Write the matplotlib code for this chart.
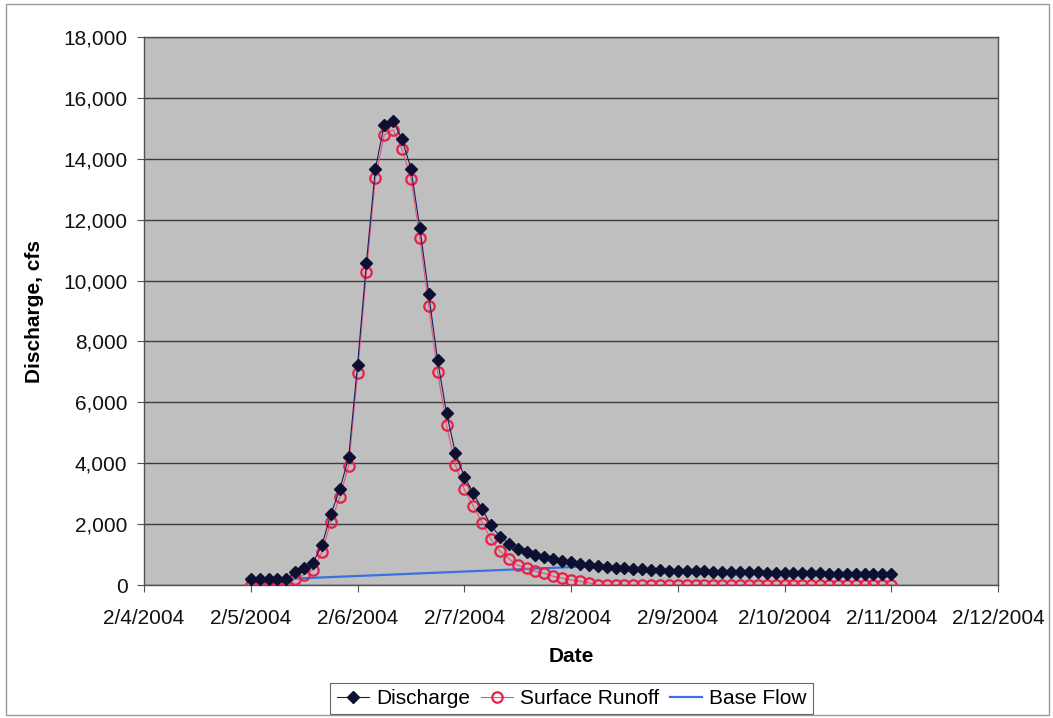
import matplotlib
matplotlib.use('Agg')
import matplotlib.pyplot as plt
import matplotlib.dates as mdates
from matplotlib.patches import Rectangle
from matplotlib.ticker import FuncFormatter
import numpy as np
import pandas as pd

plt.rc('font', family=['Liberation Sans', 'DejaVu Sans'])

# hydrograph sampled every 2 hours from 2/5/2004 00:00 to 2/11/2004 00:00
times = pd.date_range('2004-02-05 00:00', '2004-02-11 00:00', freq='2h')

discharge = [195, 195, 195, 195, 200, 420, 550, 735, 1310, 2330,
             3140, 4190, 7230, 10590, 13670, 15110, 15240, 14640, 13680, 11740,
             9560, 7380, 5650, 4340, 3560, 3030, 2490, 1960, 1590, 1360,
             1180, 1080, 975, 910, 844, 785, 740, 705, 660, 625,
             602, 570, 548, 528, 512, 498, 487, 475, 465, 458,
             452, 446, 440, 434, 428, 423, 418, 413, 408, 403,
             398, 393, 389, 384, 380, 376, 372, 367, 363, 359,
             355, 351, 347]

runoff = [0, 0, 0, 0, 0, 200, 340, 495, 1075, 2080,
          2880, 3920, 6955, 10290, 13360, 14780, 14950, 14310, 13350, 11400,
          9180, 6990, 5256, 3942, 3143, 2595, 2050, 1505, 1120, 865,
          650, 548, 450, 384, 285, 230, 170, 130, 77, 0,
          0, 0, 0, 0, 0, 0, 0, 0, 0, 0,
          0, 0, 0, 0, 0, 0, 0, 0, 0, 0,
          0, 0, 0, 0, 0, 0, 0, 0, 0, 0,
          0, 0, 0]

# straight-line base flow separation: start of rise -> end of surface runoff
base_times = [times[4], times[39]]
base_flow = [200, 625]

fig = plt.figure(figsize=(10.53, 7.18), dpi=100)
fig.patch.set_facecolor('white')
fig.patches.append(Rectangle((0.006, 0.004), 0.99, 0.99, transform=fig.transFigure,
                             fill=False, edgecolor='#9a9a9a', lw=1.0))

ax = fig.add_axes([0.1368, 0.1852, 0.8110, 0.7633])
ax.set_facecolor('#bfbfbf')

f_size = 15

ax.plot(times, discharge, color='#1a1f5a', lw=0.8, marker='D', ms=6.5,
        mfc='#0d1030', mec='#0d1030', label='Discharge', zorder=4)
ax.plot(times, runoff, color='#e0557a', lw=0.8, marker='o', ms=7.5,
        mfc='none', mec='#e8204a', mew=1.6, label='Surface Runoff', zorder=3)
ax.plot(base_times, base_flow, color='#3a70e0', lw=1.6, label='Base Flow', zorder=2)

ax.set_ylim(0, 18000)
ax.set_yticks(np.arange(0, 18001, 2000))
ax.yaxis.set_major_formatter(FuncFormatter(lambda v, p: f'{int(v):,}'))
ax.grid(axis='y', color='#3c3c3c', lw=1.0)
ax.set_axisbelow(True)

ax.set_xlim(pd.Timestamp('2004-02-04'), pd.Timestamp('2004-02-12'))
ax.xaxis.set_major_locator(mdates.DayLocator())
ax.xaxis.set_major_formatter(FuncFormatter(
    lambda v, p: (lambda d: f'{d.month}/{d.day}/{d.year}')(mdates.num2date(v))))

for s in ax.spines.values():
    s.set_color('#505050')
    s.set_linewidth(1.0)

ax.tick_params(axis='both', direction='out', length=5, color='#505050',
               labelsize=f_size, labelcolor='#111111')
ax.tick_params(axis='y', pad=7)
ax.tick_params(axis='x', pad=12)

ax.set_xlabel('Date', size=f_size, fontweight='bold', labelpad=14)
ax.set_ylabel('Discharge, cfs', size=f_size, fontweight='bold', labelpad=14)

leg = fig.legend(loc='center', bbox_to_anchor=(0.543, 0.027), ncol=3,
                 fontsize=f_size, frameon=True, fancybox=False,
                 edgecolor='#404040', handlelength=1.55, columnspacing=0.5,
                 handletextpad=0.35, borderpad=0.3)
leg.get_frame().set_linewidth(0.8)

fig.savefig('out.png', dpi=100)
